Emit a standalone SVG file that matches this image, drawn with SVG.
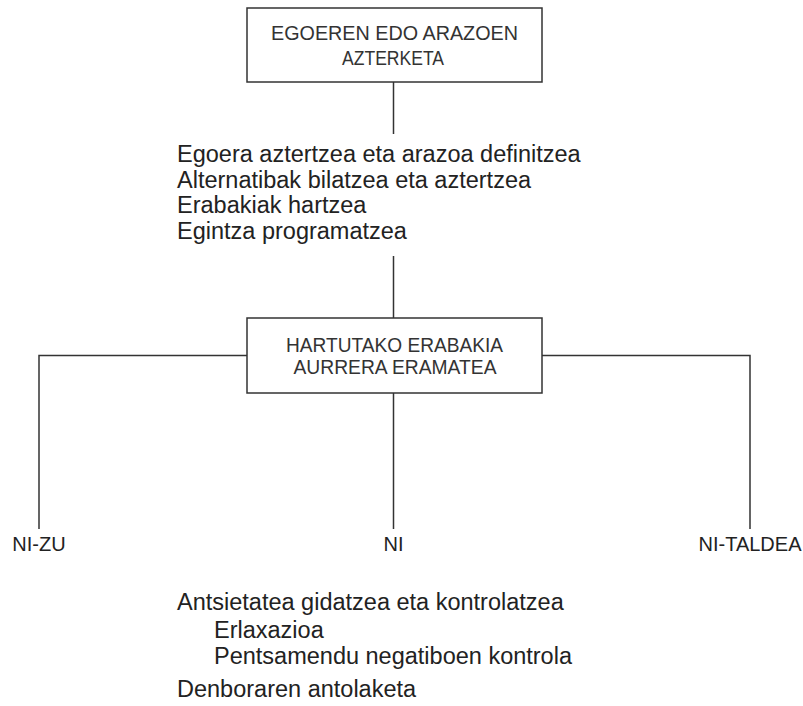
<svg xmlns="http://www.w3.org/2000/svg" width="803" height="706" viewBox="0 0 803 706">
<style>
.box{fill:#fff;stroke:#333;stroke-width:1.5}
.ln{stroke:#333;stroke-width:1.5;fill:none}
.bt{font-family:"Liberation Sans",Arial,sans-serif;font-size:21px;fill:#333;text-anchor:middle}
.tx{font-family:"Liberation Sans",Arial,sans-serif;font-size:23.5px;fill:#222}
.lb{font-family:"Liberation Sans",Arial,sans-serif;font-size:20px;fill:#222;text-anchor:middle}
</style>
<rect width="803" height="706" fill="#fff"/>
<g id="connectors">
<line class="ln" x1="393.5" y1="82" x2="393.5" y2="134"/>
<line class="ln" x1="393.5" y1="256" x2="393.5" y2="318"/>
<polyline class="ln" points="247,355.5 39,355.5 39,529"/>
<polyline class="ln" points="542,355.5 750,355.5 750,529"/>
<line class="ln" x1="393.5" y1="393" x2="393.5" y2="529"/>
</g>
<g id="node-analysis">
<rect class="box" x="247" y="8" width="295" height="74"/>
<text class="bt" x="394.5" y="39.5" textLength="247" lengthAdjust="spacingAndGlyphs">EGOEREN EDO ARAZOEN</text>
<text class="bt" x="393" y="65" textLength="102" lengthAdjust="spacingAndGlyphs">AZTERKETA</text>
</g>
<g id="node-steps">
<text class="tx" x="177" y="162">Egoera aztertzea eta arazoa definitzea</text>
<text class="tx" x="177" y="187.5">Alternatibak bilatzea eta aztertzea</text>
<text class="tx" x="177" y="213">Erabakiak hartzea</text>
<text class="tx" x="177" y="238.5">Egintza programatzea</text>
</g>
<g id="node-decision">
<rect class="box" x="247" y="318" width="295" height="75"/>
<text class="bt" x="394.5" y="351.5" textLength="217" lengthAdjust="spacingAndGlyphs">HARTUTAKO ERABAKIA</text>
<text class="bt" x="395" y="374" textLength="203" lengthAdjust="spacingAndGlyphs">AURRERA ERAMATEA</text>
</g>
<g id="node-nizu"><text class="lb" x="39" y="551">NI-ZU</text></g>
<g id="node-ni"><text class="lb" x="393.5" y="551">NI</text></g>
<g id="node-nitaldea"><text class="lb" x="750" y="551">NI-TALDEA</text></g>
<g id="node-techniques">
<text class="tx" x="177" y="610">Antsietatea gidatzea eta kontrolatzea</text>
<text class="tx" x="214" y="638">Erlaxazioa</text>
<text class="tx" x="214" y="664">Pentsamendu negatiboen kontrola</text>
<text class="tx" x="177" y="697">Denboraren antolaketa</text>
</g>
</svg>
